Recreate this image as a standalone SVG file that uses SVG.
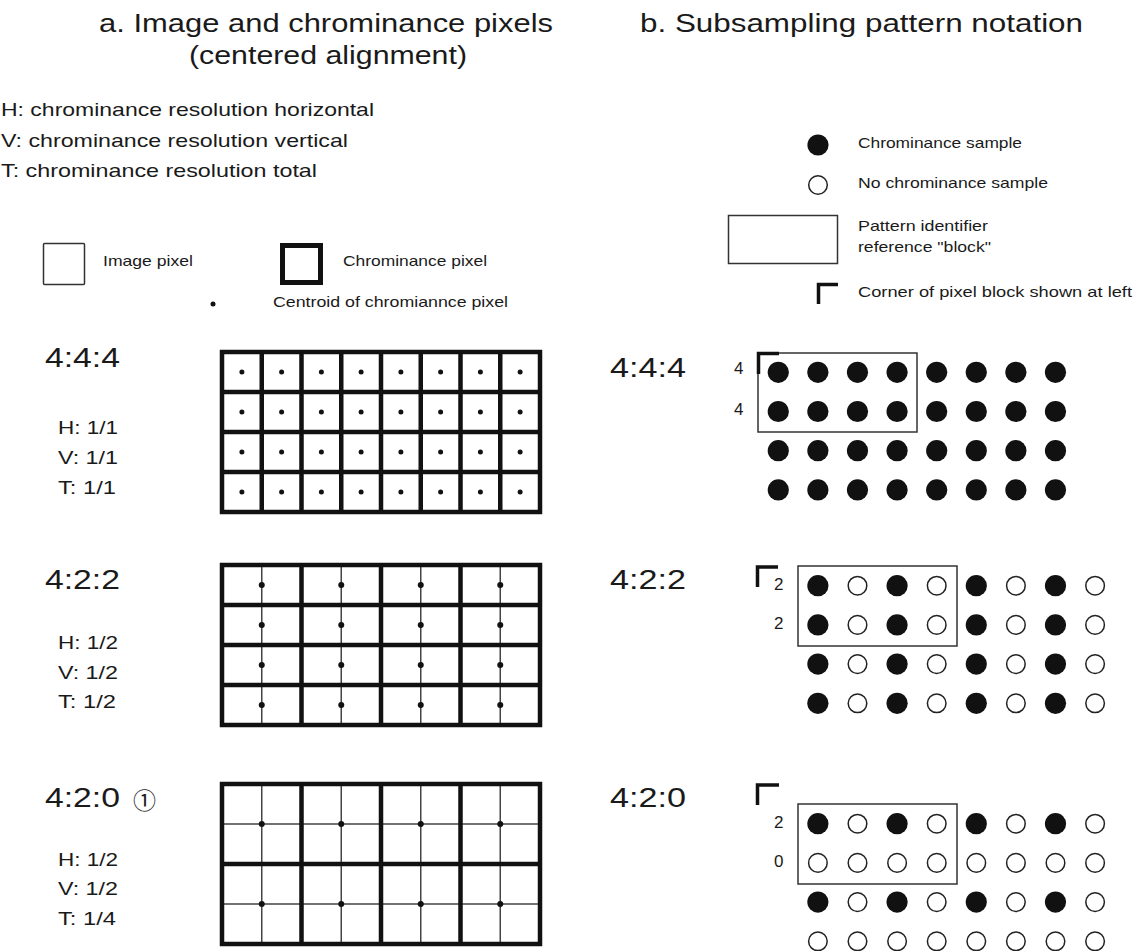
<svg xmlns="http://www.w3.org/2000/svg" xmlns:xlink="http://www.w3.org/1999/xlink" width="1141" height="951" viewBox="0 0 1141 951">
<style>
text{font-family:"Liberation Sans",Arial,sans-serif;fill:#1a1a1a}
.title{font-size:26px}
.leg{font-size:19px}
.sm{font-size:15px}
.ratio{font-size:28px}
.frac{font-size:18.5px}
.num{font-size:17px}
.thick{fill:none;stroke:#111;stroke-width:4.5;stroke-linecap:square}
.thin{fill:none;stroke:#444;stroke-width:1.5}
.box{fill:none;stroke:#333;stroke-width:1.5}
.corner{fill:none;stroke:#111;stroke-width:3.5}
.cd{fill:#111}
</style>
<defs>
<circle id="f" r="10.6" fill="#111"/>
<circle id="o" r="9.3" fill="#fff" stroke="#222" stroke-width="1.5"/>
</defs>
<rect width="1141" height="951" fill="#fff"/>

<g id="titles">
<text class="title" x="99" y="32" textLength="454" lengthAdjust="spacingAndGlyphs">a. Image and chrominance pixels</text>
<text class="title" x="189" y="64" textLength="278" lengthAdjust="spacingAndGlyphs">(centered alignment)</text>
<text class="title" x="640" y="32" textLength="443" lengthAdjust="spacingAndGlyphs">b. Subsampling pattern notation</text>
</g>

<g id="legend-left">
<text class="leg" x="1" y="116" textLength="373" lengthAdjust="spacingAndGlyphs">H: chrominance resolution horizontal</text>
<text class="leg" x="1" y="147" textLength="347" lengthAdjust="spacingAndGlyphs">V: chrominance resolution vertical</text>
<text class="leg" x="1" y="177" textLength="316" lengthAdjust="spacingAndGlyphs">T: chrominance resolution total</text>
</g>

<g id="legend-pixels">
<rect x="43.5" y="243.5" width="41" height="41" rx="1" class="box"/>
<text class="sm" x="103" y="266" textLength="90" lengthAdjust="spacingAndGlyphs">Image pixel</text>
<rect x="282.5" y="245.5" width="38" height="37" fill="none" stroke="#111" stroke-width="5"/>
<text class="sm" x="343" y="266" textLength="144" lengthAdjust="spacingAndGlyphs">Chrominance pixel</text>
<circle cx="213" cy="304" r="2.5" class="cd"/>
<text class="sm" x="273" y="307" textLength="235" lengthAdjust="spacingAndGlyphs">Centroid of chromiannce pixel</text>
</g>

<g id="legend-right">
<use href="#f" x="818" y="145"/>
<text class="sm" x="858" y="148" textLength="164" lengthAdjust="spacingAndGlyphs">Chrominance sample</text>
<use href="#o" x="818" y="185"/>
<text class="sm" x="858" y="188" textLength="190" lengthAdjust="spacingAndGlyphs">No chrominance sample</text>
<rect x="728.5" y="215.5" width="109" height="48" class="box"/>
<text class="sm" x="858" y="231" textLength="130" lengthAdjust="spacingAndGlyphs">Pattern identifier</text>
<text class="sm" x="858" y="252" textLength="133" lengthAdjust="spacingAndGlyphs">reference "block"</text>
<path d="M818.5,304 V284.5 H838" class="corner"/>
<text class="sm" x="858" y="297" textLength="274" lengthAdjust="spacingAndGlyphs">Corner of pixel block shown at left</text>
</g>

<g id="labels-left">
<text class="ratio" x="45" y="367" textLength="75" lengthAdjust="spacingAndGlyphs">4:4:4</text>
<text class="frac" x="58" y="434" textLength="60" lengthAdjust="spacingAndGlyphs">H: 1/1</text>
<text class="frac" x="58" y="464" textLength="60" lengthAdjust="spacingAndGlyphs">V: 1/1</text>
<text class="frac" x="58" y="494" textLength="58" lengthAdjust="spacingAndGlyphs">T: 1/1</text>
<text class="ratio" x="45" y="589" textLength="75" lengthAdjust="spacingAndGlyphs">4:2:2</text>
<text class="frac" x="58" y="649" textLength="60" lengthAdjust="spacingAndGlyphs">H: 1/2</text>
<text class="frac" x="58" y="679" textLength="60" lengthAdjust="spacingAndGlyphs">V: 1/2</text>
<text class="frac" x="58" y="708" textLength="58" lengthAdjust="spacingAndGlyphs">T: 1/2</text>
<text class="ratio" x="45" y="807" textLength="75" lengthAdjust="spacingAndGlyphs">4:2:0</text>
<text x="133" y="809" style="font-family:'Noto Sans CJK JP','DejaVu Sans',sans-serif;font-size:23px">①</text>
<text class="frac" x="58" y="866" textLength="60" lengthAdjust="spacingAndGlyphs">H: 1/2</text>
<text class="frac" x="58" y="895" textLength="60" lengthAdjust="spacingAndGlyphs">V: 1/2</text>
<text class="frac" x="58" y="925" textLength="58" lengthAdjust="spacingAndGlyphs">T: 1/4</text>
</g>

<g id="grid-444">
<path class="thick" d="M222,352 H540 V512 H222 Z M261.75,352 V512 M301.5,352 V512 M341.25,352 V512 M381,352 V512 M420.75,352 V512 M460.5,352 V512 M500.25,352 V512 M222,392 H540 M222,432 H540 M222,472 H540"/>
<g class="cd">
<circle cx="241.9" cy="372" r="2.5"/><circle cx="281.6" cy="372" r="2.5"/><circle cx="321.4" cy="372" r="2.5"/><circle cx="361.1" cy="372" r="2.5"/><circle cx="400.9" cy="372" r="2.5"/><circle cx="440.6" cy="372" r="2.5"/><circle cx="480.4" cy="372" r="2.5"/><circle cx="520.1" cy="372" r="2.5"/>
<circle cx="241.9" cy="412" r="2.5"/><circle cx="281.6" cy="412" r="2.5"/><circle cx="321.4" cy="412" r="2.5"/><circle cx="361.1" cy="412" r="2.5"/><circle cx="400.9" cy="412" r="2.5"/><circle cx="440.6" cy="412" r="2.5"/><circle cx="480.4" cy="412" r="2.5"/><circle cx="520.1" cy="412" r="2.5"/>
<circle cx="241.9" cy="452" r="2.5"/><circle cx="281.6" cy="452" r="2.5"/><circle cx="321.4" cy="452" r="2.5"/><circle cx="361.1" cy="452" r="2.5"/><circle cx="400.9" cy="452" r="2.5"/><circle cx="440.6" cy="452" r="2.5"/><circle cx="480.4" cy="452" r="2.5"/><circle cx="520.1" cy="452" r="2.5"/>
<circle cx="241.9" cy="492" r="2.5"/><circle cx="281.6" cy="492" r="2.5"/><circle cx="321.4" cy="492" r="2.5"/><circle cx="361.1" cy="492" r="2.5"/><circle cx="400.9" cy="492" r="2.5"/><circle cx="440.6" cy="492" r="2.5"/><circle cx="480.4" cy="492" r="2.5"/><circle cx="520.1" cy="492" r="2.5"/>
</g>
</g>

<g id="grid-422">
<path class="thin" d="M261.75,565 V725 M341.25,565 V725 M420.75,565 V725 M500.25,565 V725"/>
<path class="thick" d="M222,565 H540 V725 H222 Z M301.5,565 V725 M381,565 V725 M460.5,565 V725 M222,605 H540 M222,645 H540 M222,685 H540"/>
<g class="cd">
<circle cx="261.75" cy="585" r="3"/><circle cx="341.25" cy="585" r="3"/><circle cx="420.75" cy="585" r="3"/><circle cx="500.25" cy="585" r="3"/>
<circle cx="261.75" cy="625" r="3"/><circle cx="341.25" cy="625" r="3"/><circle cx="420.75" cy="625" r="3"/><circle cx="500.25" cy="625" r="3"/>
<circle cx="261.75" cy="665" r="3"/><circle cx="341.25" cy="665" r="3"/><circle cx="420.75" cy="665" r="3"/><circle cx="500.25" cy="665" r="3"/>
<circle cx="261.75" cy="705" r="3"/><circle cx="341.25" cy="705" r="3"/><circle cx="420.75" cy="705" r="3"/><circle cx="500.25" cy="705" r="3"/>
</g>
</g>

<g id="grid-420">
<path class="thin" d="M261.75,784 V944 M341.25,784 V944 M420.75,784 V944 M500.25,784 V944 M222,824 H540 M222,904 H540"/>
<path class="thick" d="M222,784 H540 V944 H222 Z M301.5,784 V944 M381,784 V944 M460.5,784 V944 M222,864 H540"/>
<g class="cd">
<circle cx="261.75" cy="824" r="3"/><circle cx="341.25" cy="824" r="3"/><circle cx="420.75" cy="824" r="3"/><circle cx="500.25" cy="824" r="3"/>
<circle cx="261.75" cy="904" r="3"/><circle cx="341.25" cy="904" r="3"/><circle cx="420.75" cy="904" r="3"/><circle cx="500.25" cy="904" r="3"/>
</g>
</g>

<g id="pattern-444">
<text class="ratio" x="610" y="377" textLength="76" lengthAdjust="spacingAndGlyphs">4:4:4</text>
<text class="num" x="734" y="374">4</text>
<text class="num" x="734" y="415">4</text>
<rect x="758" y="353" width="159" height="79" class="box"/>
<path d="M758.5,374 V353.5 H779" class="corner"/>
<use href="#f" x="778.3" y="372.3"/><use href="#f" x="817.9" y="372.3"/><use href="#f" x="857.5" y="372.3"/><use href="#f" x="897.1" y="372.3"/><use href="#f" x="936.7" y="372.3"/><use href="#f" x="976.3" y="372.3"/><use href="#f" x="1015.9" y="372.3"/><use href="#f" x="1055.5" y="372.3"/>
<use href="#f" x="778.3" y="411.5"/><use href="#f" x="817.9" y="411.5"/><use href="#f" x="857.5" y="411.5"/><use href="#f" x="897.1" y="411.5"/><use href="#f" x="936.7" y="411.5"/><use href="#f" x="976.3" y="411.5"/><use href="#f" x="1015.9" y="411.5"/><use href="#f" x="1055.5" y="411.5"/>
<use href="#f" x="778.3" y="450.7"/><use href="#f" x="817.9" y="450.7"/><use href="#f" x="857.5" y="450.7"/><use href="#f" x="897.1" y="450.7"/><use href="#f" x="936.7" y="450.7"/><use href="#f" x="976.3" y="450.7"/><use href="#f" x="1015.9" y="450.7"/><use href="#f" x="1055.5" y="450.7"/>
<use href="#f" x="778.3" y="489.9"/><use href="#f" x="817.9" y="489.9"/><use href="#f" x="857.5" y="489.9"/><use href="#f" x="897.1" y="489.9"/><use href="#f" x="936.7" y="489.9"/><use href="#f" x="976.3" y="489.9"/><use href="#f" x="1015.9" y="489.9"/><use href="#f" x="1055.5" y="489.9"/>
</g>

<g id="pattern-422">
<text class="ratio" x="610" y="589" textLength="76" lengthAdjust="spacingAndGlyphs">4:2:2</text>
<text class="num" x="774" y="590">2</text>
<text class="num" x="774" y="629">2</text>
<rect x="798" y="566" width="159" height="80" class="box"/>
<path d="M757.5,587 V567 H778" class="corner"/>
<use href="#f" x="817.9" y="585.7"/><use href="#o" x="857.5" y="585.7"/><use href="#f" x="897.1" y="585.7"/><use href="#o" x="936.7" y="585.7"/><use href="#f" x="976.3" y="585.7"/><use href="#o" x="1015.9" y="585.7"/><use href="#f" x="1055.5" y="585.7"/><use href="#o" x="1095.1" y="585.7"/>
<use href="#f" x="817.9" y="624.9"/><use href="#o" x="857.5" y="624.9"/><use href="#f" x="897.1" y="624.9"/><use href="#o" x="936.7" y="624.9"/><use href="#f" x="976.3" y="624.9"/><use href="#o" x="1015.9" y="624.9"/><use href="#f" x="1055.5" y="624.9"/><use href="#o" x="1095.1" y="624.9"/>
<use href="#f" x="817.9" y="664.1"/><use href="#o" x="857.5" y="664.1"/><use href="#f" x="897.1" y="664.1"/><use href="#o" x="936.7" y="664.1"/><use href="#f" x="976.3" y="664.1"/><use href="#o" x="1015.9" y="664.1"/><use href="#f" x="1055.5" y="664.1"/><use href="#o" x="1095.1" y="664.1"/>
<use href="#f" x="817.9" y="703.3"/><use href="#o" x="857.5" y="703.3"/><use href="#f" x="897.1" y="703.3"/><use href="#o" x="936.7" y="703.3"/><use href="#f" x="976.3" y="703.3"/><use href="#o" x="1015.9" y="703.3"/><use href="#f" x="1055.5" y="703.3"/><use href="#o" x="1095.1" y="703.3"/>
</g>

<g id="pattern-420">
<text class="ratio" x="610" y="807" textLength="76" lengthAdjust="spacingAndGlyphs">4:2:0</text>
<text class="num" x="774" y="828">2</text>
<text class="num" x="774" y="867">0</text>
<rect x="798" y="804" width="159" height="80" class="box"/>
<path d="M757.5,805 V785 H779" class="corner"/>
<use href="#f" x="817.9" y="823.7"/><use href="#o" x="857.5" y="823.7"/><use href="#f" x="897.1" y="823.7"/><use href="#o" x="936.7" y="823.7"/><use href="#f" x="976.3" y="823.7"/><use href="#o" x="1015.9" y="823.7"/><use href="#f" x="1055.5" y="823.7"/><use href="#o" x="1095.1" y="823.7"/>
<use href="#o" x="817.9" y="862.9"/><use href="#o" x="857.5" y="862.9"/><use href="#o" x="897.1" y="862.9"/><use href="#o" x="936.7" y="862.9"/><use href="#o" x="976.3" y="862.9"/><use href="#o" x="1015.9" y="862.9"/><use href="#o" x="1055.5" y="862.9"/><use href="#o" x="1095.1" y="862.9"/>
<use href="#f" x="817.9" y="902.1"/><use href="#o" x="857.5" y="902.1"/><use href="#f" x="897.1" y="902.1"/><use href="#o" x="936.7" y="902.1"/><use href="#f" x="976.3" y="902.1"/><use href="#o" x="1015.9" y="902.1"/><use href="#f" x="1055.5" y="902.1"/><use href="#o" x="1095.1" y="902.1"/>
<use href="#o" x="817.9" y="941.3"/><use href="#o" x="857.5" y="941.3"/><use href="#o" x="897.1" y="941.3"/><use href="#o" x="936.7" y="941.3"/><use href="#o" x="976.3" y="941.3"/><use href="#o" x="1015.9" y="941.3"/><use href="#o" x="1055.5" y="941.3"/><use href="#o" x="1095.1" y="941.3"/>
</g>
</svg>
